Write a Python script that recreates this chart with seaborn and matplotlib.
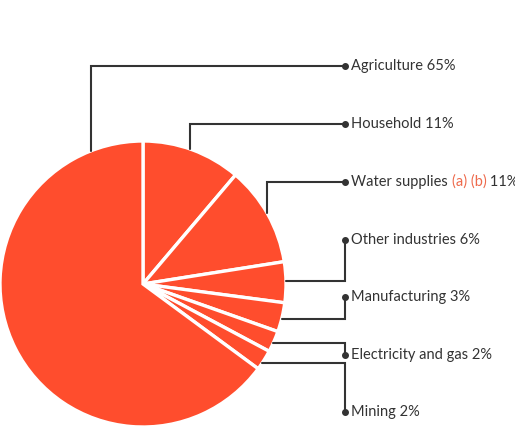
import numpy as np
import seaborn as sns
import matplotlib.pyplot as plt

# data, clockwise from 12 o'clock
sectors = ['Household', 'Water supplies', 'Other industries', 'Manufacturing',
           'Electricity and gas', 'Mining', 'Agriculture']
shares = [11.2, 11.3, 4.6, 3.3, 2.4, 2.3, 64.9]
label_pct = ['11%', '11%', '6%', '3%', '2%', '2%', '65%']

# label list, top to bottom
label_order = ['Agriculture', 'Household', 'Water supplies', 'Other industries',
               'Manufacturing', 'Electricity and gas', 'Mining']

sns.set_theme(style='white')
plt.rcParams['font.family'] = ['Lato', 'DejaVu Sans']

W, H = 515, 440
fig = plt.figure(figsize=(W / 100, H / 100), dpi=100)
ax = fig.add_axes([0, 0, 1, 1])

red = '#ff4d2d'
ink = '#333333'
cx, cy, r = 143, H - 284, 143

ax.pie(shares, startangle=90, counterclock=False, center=(cx, cy), radius=r,
       colors=[red] * len(shares),
       wedgeprops=dict(edgecolor='white', linewidth=2.4))
ax.set_xlim(0, W)
ax.set_ylim(0, H)
ax.set_aspect('equal')
ax.axis('off')

# label rows (pixel y from top) and connector anchors
label_y = [66, 124, 182, 240, 297, 355, 412]
dot_x = 345
top_anchor_x = {'Agriculture': 91, 'Household': 190, 'Water supplies': 267}
side_anchor_y = {'Other industries': 281, 'Manufacturing': 319,
                 'Electricity and gas': 343, 'Mining': 363}

pct = dict(zip(sectors, label_pct))
texts = []
for name, ly in zip(label_order, label_y):
    y = H - ly
    if name in top_anchor_x:
        x0 = top_anchor_x[name]
        y0 = cy + np.sqrt(r ** 2 - (x0 - cx) ** 2)
        ax.plot([x0, x0, dot_x], [y0, y, y], color=ink, lw=1.5,
                solid_joinstyle='miter')
    else:
        ya = H - side_anchor_y[name]
        x0 = cx + np.sqrt(r ** 2 - (ya - cy) ** 2)
        ax.plot([x0, dot_x, dot_x], [ya, ya, y], color=ink, lw=1.5,
                solid_joinstyle='miter')
    ax.plot(dot_x, y, 'o', color=ink, ms=4)

    if name == 'Water supplies':
        t1 = ax.text(dot_x + 6, y, name + ' ', color=ink, fontsize=10.5,
                     va='center', ha='left')
        fig.canvas.draw()
        bb = t1.get_window_extent()
        t2 = ax.text(bb.x1, y, '(a) (b)', color='#ee6a4c', fontsize=10.5,
                     va='center', ha='left')
        fig.canvas.draw()
        bb = t2.get_window_extent()
        ax.text(bb.x1, y, ' ' + pct[name], color=ink, fontsize=10.5,
                va='center', ha='left')
    else:
        ax.text(dot_x + 6, y, f'{name} {pct[name]}', color=ink, fontsize=10.5,
                va='center', ha='left')

fig.savefig('out.png', dpi=100)
